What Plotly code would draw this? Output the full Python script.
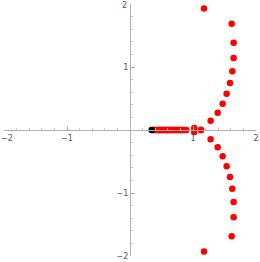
import plotly.graph_objects as go

# complex branch (upper half)
upper_re = [1.02, 1.127, 1.28, 1.392, 1.471, 1.534, 1.587, 1.624, 1.645, 1.645, 1.614, 1.175]
upper_im = [0.03, 0.005, 0.145, 0.275, 0.415, 0.575, 0.748, 0.933, 1.143, 1.385, 1.686, 1.93]
# real points on the axis
real_re = [0.36, 0.375, 0.39, 0.405, 0.42, 0.435, 0.45, 0.465, 0.48, 0.495, 0.51, 0.525,
           0.54, 0.555, 0.57, 0.585, 0.6, 0.615, 0.63, 0.645, 0.66, 0.675, 0.69, 0.705,
           0.72, 0.735, 0.75, 0.765, 0.78, 0.795, 0.81, 0.83, 0.85, 0.87, 0.895]
black_re = [0.344]
black_im = [0.0]

tickvals = [-2, -1, 1, 2]
ticktext = ["\u22122", "\u22121", "1", "2"]

xs = upper_re + upper_re + real_re
ys = upper_im + [-v for v in upper_im] + [0.0] * len(real_re)

fig = go.Figure()
fig.add_trace(go.Scatter(x=xs, y=ys, mode="markers",
                         marker=dict(color="#ff0000", size=6.5, line=dict(width=0)),
                         hoverinfo="skip", cliponaxis=False))
fig.add_trace(go.Scatter(x=black_re, y=black_im, mode="markers",
                         marker=dict(color="#000000", size=6.5, line=dict(width=0)),
                         hoverinfo="skip", cliponaxis=False))

font = dict(family="DejaVu Sans", size=8, color="#555555")
minor_vals = [v / 5 for v in range(-10, 11) if v % 5 != 0]
axis_common = dict(
    range=[-2, 2], showgrid=False, zeroline=False, showline=True,
    linecolor="#b0b0b0", linewidth=1, anchor="free", position=0.5,
    automargin=False,
    tickvals=tickvals, ticktext=ticktext, ticks="inside", ticklen=4,
    tickcolor="#b0b0b0", tickwidth=1,
    tickfont=font,
    minor=dict(tickvals=minor_vals, ticks="inside", ticklen=2,
               tickcolor="#c8c8c8", tickwidth=1),
    fixedrange=True,
)
fig.update_layout(
    width=260, height=262,
    margin=dict(l=4, r=4, t=4, b=6),
    paper_bgcolor="white", plot_bgcolor="white",
    showlegend=False,
    xaxis=dict(**axis_common),
    yaxis=dict(**axis_common),
)
# edge labels that plotly drops at the figure border
fig.add_annotation(x=tickvals[0], y=0, text=ticktext[0], showarrow=False,
                   xanchor="left", yanchor="top", xshift=-5, yshift=-2, font=font)
fig.add_annotation(x=0, y=tickvals[-1], text=ticktext[-1], showarrow=False,
                   xanchor="right", yanchor="middle", xshift=-1, yshift=-1, font=font)
fig.write_html("out.html", config={"displayModeBar": False},
               post_script="document.body.style.margin='0';document.body.style.overflow='hidden';")
